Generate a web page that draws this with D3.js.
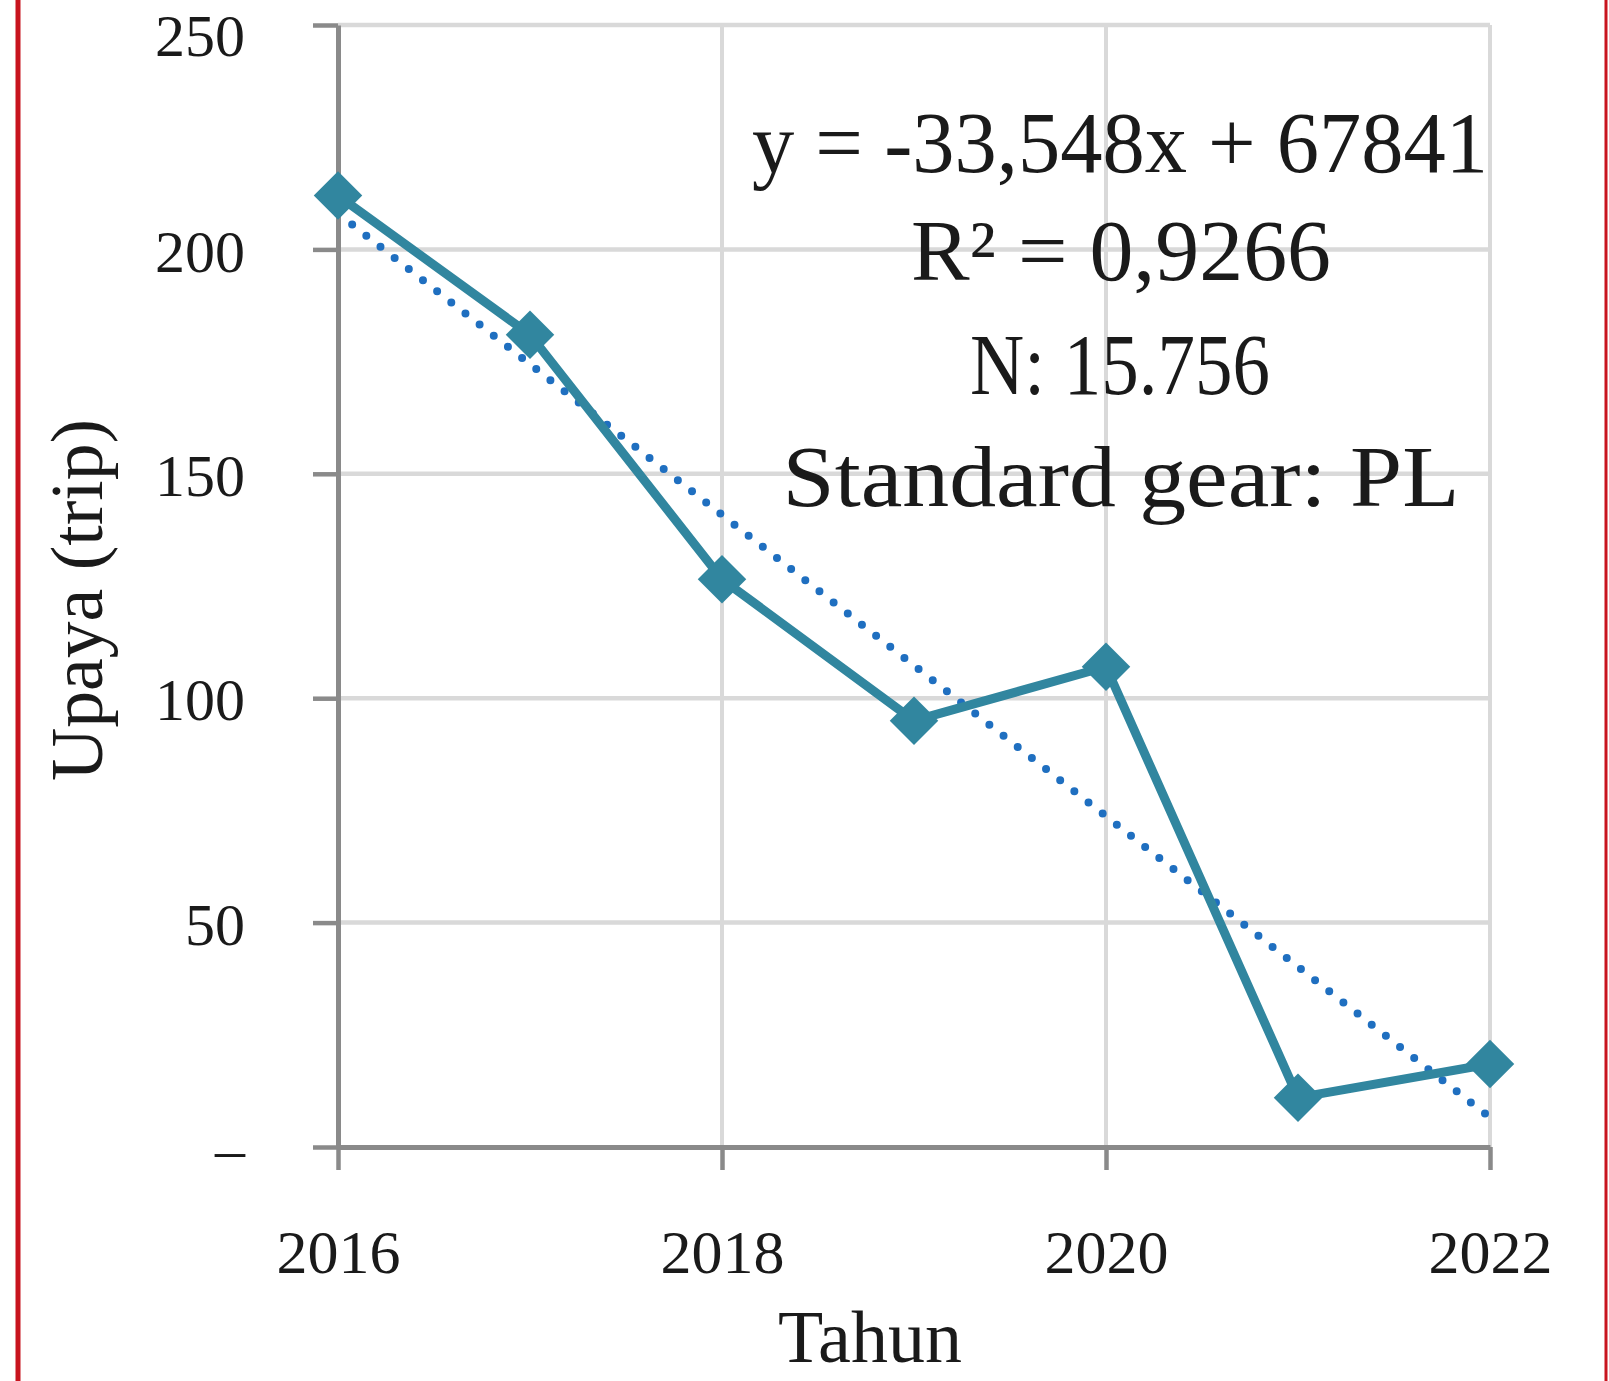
<!DOCTYPE html>
<html>
<head>
<meta charset="utf-8">
<script src="https://cdn.jsdelivr.net/npm/d3@7"></script>
<style>
  html, body { margin: 0; padding: 0; background: #fff; }
  svg { display: block; }
  text { font-family: "Liberation Serif", "DejaVu Serif", serif; fill: #1a1a1a; }
</style>
</head>
<body>
<div id="chart"></div>
<script>
// data
const years = [2016, 2017, 2018, 2019, 2020, 2021, 2022]
const upaya = [212, 181, 126.5, 95, 107, 11, 18.5]

const yTicks = [0, 50, 100, 150, 200, 250]
const yTickLabels = ['–', '50', '100', '150', '200', '250']
const xTicks = [2016, 2018, 2020, 2022]

const notes = ['y = -33,548x + 67841', 'R² = 0,9266', 'N: 15.756', 'Standard gear: PL']

const W = 1609, H = 1381
const plot = { left: 338, right: 1490, top: 25, bottom: 1147 }

const lineColor = '#31869f'
const trendColor = '#1f6fc0'
const gridColor = '#d9d9d9'
const axisColor = '#8a8a8a'

const svg = d3.select('#chart').append('svg')
  .attr('width', W).attr('height', H)

const x = d3.scaleLinear().domain([2016, 2022]).range([plot.left, plot.right])
const y = d3.scaleLinear().domain([0, 250]).range([plot.bottom, plot.top])

// red frame (cropped box)
svg.append('line').attr('x1', 18).attr('x2', 18).attr('y1', 0).attr('y2', H)
  .attr('stroke', '#c8141e').attr('stroke-width', 5)
svg.append('line').attr('x1', 1606).attr('x2', 1606).attr('y1', 0).attr('y2', H)
  .attr('stroke', '#c8141e').attr('stroke-width', 3)

// gridlines
const grid = svg.append('g')
grid.selectAll('.hg').data(yTicks.filter(d => d > 0)).join('line')
  .attr('x1', plot.left).attr('x2', plot.right)
  .attr('y1', d => y(d)).attr('y2', d => y(d))
  .attr('stroke', gridColor).attr('stroke-width', 4.5)
grid.selectAll('.vg').data(xTicks.filter(d => d > 2016)).join('line')
  .attr('x1', d => x(d)).attr('x2', d => x(d))
  .attr('y1', plot.top).attr('y2', plot.bottom)
  .attr('stroke', gridColor).attr('stroke-width', 4)

// axes
const yAxis = svg.append('g').attr('transform', `translate(${plot.left},0)`)
  .call(d3.axisLeft(y).tickValues(yTicks).tickSize(25).tickSizeOuter(0)
    .tickPadding(68).tickFormat((d, i) => yTickLabels[i]))
const xAxis = svg.append('g').attr('transform', `translate(0,${plot.bottom})`)
  .call(d3.axisBottom(x).tickValues(xTicks).tickSize(23).tickSizeOuter(0)
    .tickFormat(d3.format('d')))

for (const ax of [yAxis, xAxis]) {
  ax.select('.domain').attr('stroke', axisColor).attr('stroke-width', 5)
  ax.selectAll('.tick line').attr('stroke', axisColor).attr('stroke-width', 4.5)
  ax.selectAll('.tick text').attr('fill', '#1a1a1a')
    .style('font-family', '"Liberation Serif", serif')
}
// top label nudged down so it stays inside the page
yAxis.selectAll('.tick text').style('font-size', '60px')
  .attr('dy', d => d === 250 ? '0.5em' : '0.36em')
xAxis.selectAll('.tick text').style('font-size', '62px')
  .attr('y', 126).attr('dy', 0)

// axis titles
svg.append('text')
  .attr('transform', `translate(102,${600}) rotate(-90)`)
  .attr('text-anchor', 'middle')
  .attr('textLength', 362).attr('lengthAdjust', 'spacingAndGlyphs')
  .style('font-size', '74px')
  .text('Upaya (trip)')
svg.append('text')
  .attr('x', 870).attr('y', 1362)
  .attr('text-anchor', 'middle')
  .style('font-size', '74px')
  .text('Tahun')

// linear trend from the data
const mx = d3.mean(years), my = d3.mean(upaya)
const slope = d3.sum(years, (d, i) => (d - mx) * (upaya[i] - my)) / d3.sum(years, d => (d - mx) ** 2)
const icpt = my - slope * mx
const trend = [2016, 2022].map(t => [t, icpt + slope * t])

svg.append('path')
  .datum(trend)
  .attr('d', d3.line().x(d => x(d[0])).y(d => y(d[1])))
  .attr('fill', 'none')
  .attr('stroke', trendColor)
  .attr('stroke-width', 8)
  .attr('stroke-linecap', 'round')
  .attr('stroke-dasharray', '0 18')

// series line + diamonds
const pts = years.map((d, i) => [d, upaya[i]])
svg.append('path')
  .datum(pts)
  .attr('d', d3.line().x(d => x(d[0])).y(d => y(d[1])))
  .attr('fill', 'none')
  .attr('stroke', lineColor)
  .attr('stroke-width', 9)
  .attr('stroke-linejoin', 'round')

svg.append('g').selectAll('path').data(pts).join('path')
  .attr('transform', d => `translate(${x(d[0])},${y(d[1])})`)
  .attr('d', d3.symbol(d3.symbolDiamond2, 1500))
  .attr('fill', lineColor)

// regression annotation
const noteLayout = [
  { cx: 1120, base: 172, len: 736 },
  { cx: 1121, base: 280, len: 420 },
  { cx: 1120, base: 394, len: 300 },
  { cx: 1121, base: 506, len: 677 }
]
svg.append('g').selectAll('text').data(notes).join('text')
  .attr('x', (d, i) => noteLayout[i].cx)
  .attr('y', (d, i) => noteLayout[i].base)
  .attr('text-anchor', 'middle')
  .attr('textLength', (d, i) => noteLayout[i].len)
  .attr('lengthAdjust', 'spacingAndGlyphs')
  .style('font-size', '86px')
  .text(d => d)
</script>
</body>
</html>
